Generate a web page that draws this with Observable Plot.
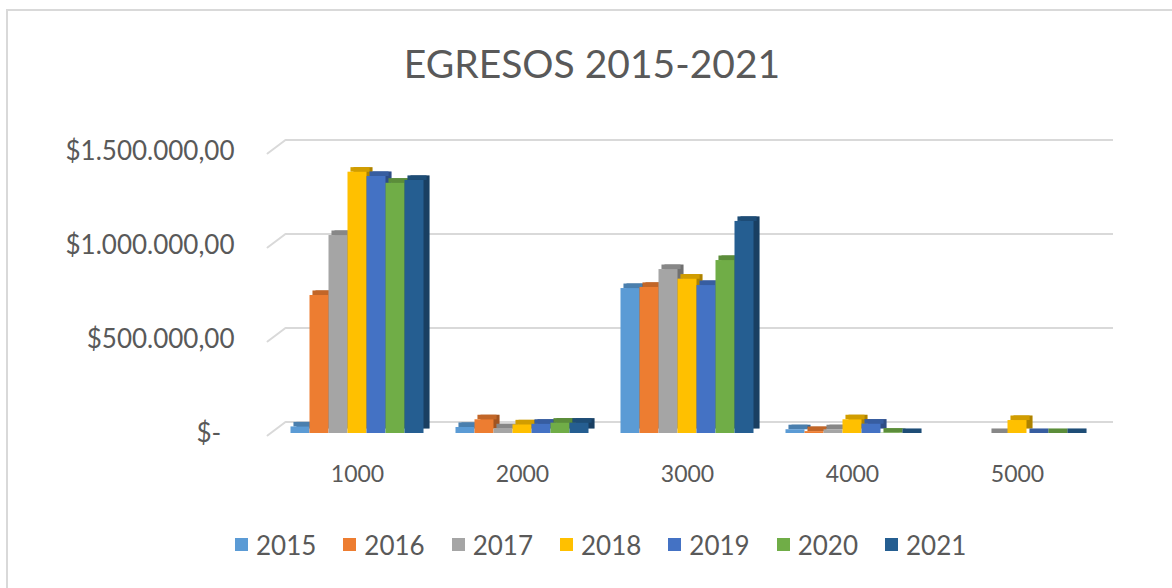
<!DOCTYPE html>
<html>
<head>
<meta charset="utf-8">
<script src="https://cdn.jsdelivr.net/npm/d3@7"></script>
<script src="https://cdn.jsdelivr.net/npm/@observablehq/plot@0.6"></script>
<style>
  body { margin: 0; background: #fff; }
  #wrap { position: relative; width: 1172px; height: 588px; overflow: hidden; font-family: Lato, "Open Sans", sans-serif; color: #595959; }
  #border { position: absolute; left: 6px; top: 9px; width: 2000px; height: 2000px; border-top: 2px solid #d9d9d9; border-left: 2px solid #d9d9d9; }
  #title { position: absolute; left: 12px; width: 1160px; top: 40px; line-height: 46px; text-align: center; font-size: 39px; }
  #chart { position: absolute; left: 0; top: 0; }
  #legend { position: absolute; left: 235px; top: 528px; }
  .lg-swatch { margin-right: 27px !important; font-size: 26px; color: #595959; }
  .lg-swatch > svg { margin-right: 8px !important; }
</style>
</head>
<body>
<div id="wrap">
  <div id="border"></div>
  <div id="title">EGRESOS 2015-2021</div>
  <div id="chart"></div>
  <div id="legend"></div>
</div>
<script>
const categories = ["1000", "2000", "3000", "4000", "5000"];
const years = ["2015", "2016", "2017", "2018", "2019", "2020", "2021"];
const v2015 = [35000, 32000, 771000, 20000, null];
const v2016 = [734000, 73000, 777000, 10000, null];
const v2017 = [1053000, 25000, 872000, 20000, 0];
const v2018 = [1390000, 46000, 821000, 73000, 69000];
const v2019 = [1367000, 49000, 787000, 50000, 0];
const v2020 = [1331000, 55000, 920000, 2000, 0];
const v2021 = [1346000, 55000, 1128000, 0, 0];
const yTicks = [0, 500000, 1000000, 1500000];
const palette = ["#5B9BD5", "#ED7D31", "#A5A5A5", "#FFC000", "#4472C4", "#70AD47", "#255E91"];

const series = [v2015, v2016, v2017, v2018, v2019, v2020, v2021];
const rows = categories.flatMap((c, i) => years.map((yr, j) => ({cat: c, year: yr, value: series[j][i]})))
  .filter(d => d.value != null);

const loc = d3.formatLocale({decimal: ",", thousands: ".", grouping: [3], currency: ["$", ""]});
const fmt = loc.format("$,.2f");
const tickFormat = d => d === 0 ? "$-\u00a0\u00a0" : fmt(d);

const grid = "#d9d9d9";
const D = 6, DY = 4.5;
const FONT = "Lato, 'Open Sans', sans-serif";

function marks(withDiag) {
  const m = [
    Plot.ruleY(yTicks, {y: d => d, dx: 11, dy: -11.5, insetLeft: -14.5, insetRight: -17, stroke: grid, strokeWidth: 2})
  ];
  if (withDiag) {
    m.push(Plot.vector(yTicks, {
      y: d => d, fx: () => "1000", frameAnchor: "left", dx: -22, dy: 2,
      length: 22.5, rotate: 53, anchor: "start", r: 0.001, stroke: grid, strokeWidth: 2
    }));
  }
  m.push(
    Plot.barY(rows, {fx: "cat", x: "year", y: "value", fill: "year", dx: D, dy: -DY}),
    Plot.barY(rows, {fx: "cat", x: "year", y: "value", fill: "black", fillOpacity: 0.32, dx: D, dy: -DY}),
    Plot.barY(rows, {fx: "cat", x: "year", y1: "value", y2: "value", insetTop: -DY, dx: D / 2, fill: "year"}),
    Plot.barY(rows, {fx: "cat", x: "year", y1: "value", y2: "value", insetTop: -DY, dx: D / 2, fill: "black", fillOpacity: 0.18}),
    Plot.barY(rows, {fx: "cat", x: "year", y: "value", fill: "year"}),
    Plot.axisFx({anchor: "bottom", tickSize: 0, tickPadding: 32, fontSize: 23, label: null}),
    Plot.axisY(yTicks, {anchor: "left", tickFormat, tickSize: 0, tickPadding: 55, fontSize: 26, label: null})
  );
  return m;
}

function build(withDiag) {
  return Plot.plot({
    width: 1172,
    height: 500,
    marginTop: 151,
    marginBottom: 67,
    marginLeft: 274.5,
    marginRight: 72.5,
    style: {fontFamily: FONT, fontSize: "26px", color: "#595959", background: "transparent", overflow: "visible"},
    fx: {domain: categories, paddingInner: 0.176, paddingOuter: 0.088, label: null},
    x: {domain: years, padding: 0, axis: null},
    y: {domain: [0, 1500000], label: null},
    color: {domain: years, range: palette},
    marks: marks(withDiag)
  });
}

let chart;
try { chart = build(true); } catch (e) { console.error(e); chart = build(false); }
document.getElementById("chart").append(chart);

const legend = Plot.legend({
  color: {type: "ordinal", domain: years, range: palette},
  legend: "swatches",
  swatchSize: 13,
  className: "lg",
  style: {fontFamily: FONT, fontSize: "26px", color: "#595959"}
});
document.getElementById("legend").append(legend);
</script>
</body>
</html>
